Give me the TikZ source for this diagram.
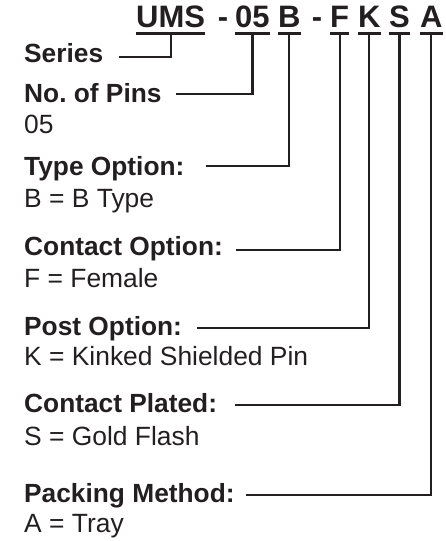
\documentclass[tikz,border=0pt]{standalone}
\usepackage{fontspec}
\setmainfont{Liberation Sans}
\definecolor{umsInk}{HTML}{231F20}
\frenchspacing

\begin{document}
\begin{tikzpicture}[x=1pt, y=-1pt]
% UMS part number breakdown
\providecommand{\umsLineWidth}{2.2pt}
\providecommand{\umsUnderDrop}{6.5pt}
\tikzset{
  codepart/.style={anchor=base west, inner sep=0pt, text=umsInk,
    font=\fontsize{31}{31}\selectfont\bfseries},
  dashpart/.style={codepart, anchor=base},
  lbl/.style={anchor=base west, inner sep=0pt, text=umsInk,
    font=\fontsize{26.3}{26.3}\selectfont\bfseries},
  valtxt/.style={anchor=base west, inner sep=0pt, text=umsInk,
    font=\fontsize{26.4}{26.4}\selectfont},
  leader/.style={draw=umsInk, line width=\umsLineWidth, line cap=butt, line join=miter},
}
\useasboundingbox (0,0) rectangle (445,541);
% Part number
\node[codepart] (cUms) at (136,27) {UMS};
\node[dashpart] (d1) at (223,27) {-};
\node[codepart] (cPins) at (235,27) {05};
\node[codepart] (cType) at (278,27) {B};
\node[dashpart] (d2) at (317,27) {-};
\node[codepart] (cCont) at (330,27) {F};
\node[codepart] (cPost) at (358,27) {K};
\node[codepart] (cPlat) at (389,27) {S};
\node[codepart] (cPack) at (420,27) {A};
% Underlines
\begin{scope}[leader, line width=2.5pt]
  \draw ([yshift=-\umsUnderDrop]cUms.base west) -- ([yshift=-\umsUnderDrop]cUms.base east);
  \draw ([yshift=-\umsUnderDrop]cPins.base west) -- ([yshift=-\umsUnderDrop]cPins.base east);
  \draw ([yshift=-\umsUnderDrop]cType.base west) -- ([yshift=-\umsUnderDrop]cType.base east);
  \draw ([yshift=-\umsUnderDrop]cCont.base west) -- ([yshift=-\umsUnderDrop]cCont.base east);
  \draw ([yshift=-\umsUnderDrop]cPost.base west) -- ([yshift=-\umsUnderDrop]cPost.base east);
  \draw ([yshift=-\umsUnderDrop]cPlat.base west) -- ([yshift=-\umsUnderDrop]cPlat.base east);
  \draw ([yshift=-\umsUnderDrop]cPack.base west) -- ([yshift=-\umsUnderDrop]cPack.base east);
\end{scope}
% Labels and values
\node[lbl] (lSeries) at (24,62) {Series};
\node[lbl] (lPins) at (24,102) {No. of Pins};
\node[valtxt] (vPins) at (24,133) {05};
\node[lbl] (lType) at (24,175) {Type Option:};
\node[valtxt] (vType) at (24,207) {B = B Type};
\node[lbl] (lCont) at (24,255) {Contact Option:};
\node[valtxt] (vCont) at (24,287) {F = Female};
\node[lbl] (lPost) at (24,335) {Post Option:};
\node[valtxt] (vPost) at (24,365) {K = Kinked Shielded Pin};
\node[lbl] (lPlat) at (24,412) {Contact Plated:};
\node[valtxt] (vPlat) at (24,445) {S = Gold Flash};
\node[lbl] (lPack) at (24,502) {Packing Method:};
\node[valtxt] (vPack) at (24,532) {A = Tray};
% Leaders
\draw[leader] ([yshift=-\umsUnderDrop]cUms.base) |- ([xshift=16pt,yshift=5pt]lSeries.base east);
\draw[leader] ([yshift=-\umsUnderDrop]cPins.base) |- ([xshift=14pt,yshift=8pt]lPins.base east);
\draw[leader] ([yshift=-\umsUnderDrop]cType.base) |- ([xshift=21pt,yshift=9pt]lType.base east);
\draw[leader] ([yshift=-\umsUnderDrop]cCont.base) |- ([xshift=13pt,yshift=5pt]lCont.base east);
\draw[leader] ([yshift=-\umsUnderDrop]cPost.base) |- ([xshift=15pt,yshift=7pt]lPost.base east);
\draw[leader] ([yshift=-\umsUnderDrop]cPlat.base) |- ([xshift=18pt,yshift=7pt]lPlat.base east);
\draw[leader] ([yshift=-\umsUnderDrop]cPack.base) |- ([xshift=11pt,yshift=7pt]lPack.base east);
\end{tikzpicture}
\end{document}
